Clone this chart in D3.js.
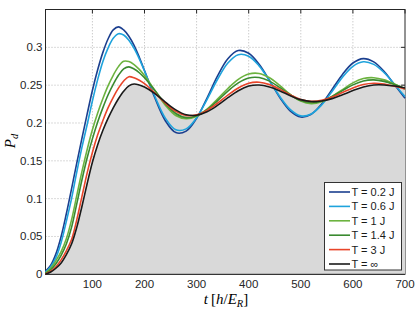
<!DOCTYPE html>
<html>
<head>
  <meta charset="utf-8" />
  <script src="https://d3js.org/d3.v7.min.js"></script>
  <style>
    body{margin:0;background:#fff;}
    text{font-family:"Liberation Sans",Arial,sans-serif;}
  </style>
</head>
<body>
<script>
// time grid (h/E_R)
var times = [10,20,30,40,50,60,70,80,90,100,110,120,130,140,150,160,170,180,190,200,
  220,240,260,280,300,320,340,360,380,400,420,440,460,480,500,520,540,560,580,600,620,640,660,680,700];

var pT02 = [0.004,0.012,0.027,0.05,0.08,0.113,0.147,0.18,0.212,0.243,0.27,0.293,0.311,0.323,0.327,0.323,0.3146,0.3025,0.2868,0.2693,
  0.233,0.203,0.1873,0.1893,0.2062,0.2329,0.2618,0.2849,0.2957,0.2921,0.2775,0.256,0.2333,0.2156,0.2079,0.2116,0.225,0.2444,0.2642,0.2793,0.2851,0.2807,0.268,0.2505,0.2328];
var pT06 = [0.003,0.01,0.022,0.042,0.07,0.1,0.135,0.168,0.198,0.229,0.257,0.281,0.299,0.312,0.318,0.3163,0.3093,0.2985,0.2847,0.2687,
  0.235,0.2064,0.191,0.1922,0.2069,0.231,0.2575,0.2793,0.2903,0.2882,0.2755,0.2559,0.2347,0.2177,0.2094,0.2119,0.2238,0.2416,0.2604,0.2749,0.2809,0.2775,0.2665,0.2508,0.235];
var pT1 = [0.002,0.008,0.018,0.03,0.047,0.072,0.104,0.136,0.165,0.191,0.213,0.232,0.249,0.263,0.2745,0.2815,0.2812,0.2772,0.2708,0.2627,
  0.243,0.2236,0.2099,0.2056,0.2089,0.2182,0.2315,0.2456,0.2577,0.2648,0.2655,0.2597,0.2493,0.2377,0.2289,0.2255,0.228,0.235,0.2442,0.253,0.2587,0.2598,0.257,0.2515,0.2448];
var pT14 = [0.001,0.006,0.014,0.025,0.04,0.062,0.093,0.125,0.154,0.179,0.201,0.22,0.237,0.251,0.263,0.2715,0.2742,0.2713,0.2664,0.2597,
  0.243,0.2257,0.2126,0.2071,0.2095,0.2175,0.2293,0.2421,0.253,0.2595,0.2601,0.2553,0.2467,0.2371,0.2298,0.227,0.2291,0.235,0.2428,0.2504,0.2556,0.257,0.255,0.2507,0.2454];
var pT3 = [0.0005,0.004,0.01,0.019,0.031,0.046,0.072,0.103,0.134,0.161,0.184,0.203,0.22,0.234,0.246,0.2555,0.2612,0.2598,0.2565,0.2519,
  0.2396,0.2262,0.2153,0.2098,0.2108,0.2167,0.2261,0.2368,0.2463,0.2526,0.2539,0.2507,0.2444,0.237,0.2311,0.2286,0.2299,0.2342,0.2402,0.2464,0.2509,0.2526,0.2515,0.2485,0.245];
var pTinf = [0,0.003,0.008,0.015,0.026,0.04,0.062,0.09,0.12,0.148,0.171,0.19,0.206,0.22,0.232,0.242,0.249,0.2515,0.2502,0.2476,
  0.2389,0.2277,0.2174,0.2109,0.2102,0.2148,0.2232,0.2334,0.2427,0.2488,0.2502,0.2476,0.2424,0.2361,0.2309,0.2283,0.229,0.2322,0.2373,0.2428,0.2475,0.2502,0.2503,0.2488,0.2462];

var seriesNames = ["T = 0.2 J","T = 0.6 J","T = 1 J","T = 1.4 J","T = 3 J","T = \u221e"];
var seriesColors = ["#1b3f8f","#1ea3dc","#6cb33f","#3a8a30","#e8452a","#1a1a1a"];
var seriesData = [pT02,pT06,pT1,pT14,pT3,pTinf];

var xTicks = [100,200,300,400,500,600,700];
var yTicks = [0,0.05,0.1,0.15,0.2,0.25,0.3];

var W = 415, H = 311;
var m = {left:45.5, right:10, top:9.5, bottom:36.7};

var svg = d3.select("body").append("svg").attr("width",W).attr("height",H);

var x = d3.scaleLinear().domain([10,700]).range([m.left, W-m.right]);
var y = d3.scaleLinear().domain([0,0.35]).range([H-m.bottom, m.top]);

// dotted grid
var grid = svg.append("g").attr("stroke","#b5b5b5").attr("stroke-dasharray","1,2").attr("stroke-width",1);
grid.selectAll(".gx").data(xTicks.filter(function(d){return d<700;})).enter().append("line")
  .attr("x1",function(d){return x(d);}).attr("x2",function(d){return x(d);})
  .attr("y1",y(0)).attr("y2",y(0.35));
grid.selectAll(".gy").data(yTicks.filter(function(d){return d>0;})).enter().append("line")
  .attr("x1",x(10)).attr("x2",x(700))
  .attr("y1",function(d){return y(d);}).attr("y2",function(d){return y(d);});

// inward ticks, top and right
var tk = svg.append("g").attr("stroke","#262626").attr("stroke-width",1);
xTicks.forEach(function(d){
  tk.append("line").attr("x1",x(d)).attr("x2",x(d)).attr("y1",y(0.35)).attr("y2",y(0.35)+4);
});
yTicks.forEach(function(d){
  tk.append("line").attr("x1",x(700)).attr("x2",x(700)-4).attr("y1",y(d)).attr("y2",y(d));
});

// box
svg.append("rect").attr("x",x(10)).attr("y",y(0.35))
  .attr("width",x(700)-x(10)).attr("height",y(0)-y(0.35))
  .attr("fill","none").attr("stroke","#262626").attr("stroke-width",1);

// gray area under T = inf
var pts = function(arr){ return times.map(function(t,i){ return [t, arr[i]]; }); };
var area = d3.area().x(function(d){return x(d[0]);}).y0(y(0)).y1(function(d){return y(d[1]);})
  .curve(d3.curveCatmullRom);
svg.append("path").datum(pts(pTinf)).attr("d",area).attr("fill","#d9d9d9");

// left and bottom axis lines on top of the fill
svg.append("line").attr("x1",x(10)).attr("x2",x(700)).attr("y1",y(0)).attr("y2",y(0)).attr("stroke","#262626");
svg.append("line").attr("x1",x(10)).attr("x2",x(10)).attr("y1",y(0)).attr("y2",y(0.35)).attr("stroke","#262626");

var line = d3.line().x(function(d){return x(d[0]);}).y(function(d){return y(d[1]);})
  .curve(d3.curveCatmullRom);
seriesData.forEach(function(arr,i){
  svg.append("path").datum(pts(arr)).attr("d",line)
    .attr("fill","none").attr("stroke",seriesColors[i]).attr("stroke-width",1.6);
});

// tick labels
svg.selectAll(".xl").data(xTicks).enter().append("text")
  .attr("x",function(d){return x(d);}).attr("y",y(0)+14)
  .attr("text-anchor","middle").attr("font-size","11.5px").attr("fill","#262626")
  .text(function(d){return d;});
svg.selectAll(".yl").data(yTicks).enter().append("text")
  .attr("x",x(10)-3).attr("y",function(d){return y(d)+4;})
  .attr("text-anchor","end").attr("font-size","11.5px").attr("fill","#262626")
  .text(function(d){return String(d);});

// axis labels
var xl = svg.append("text").attr("x",226).attr("y",303.5).attr("text-anchor","middle")
  .style("font-family","'Liberation Serif','DejaVu Serif',serif").attr("font-size","15px");
xl.append("tspan").attr("font-style","italic").text("t");
xl.append("tspan").text("\u2009[");
xl.append("tspan").attr("font-style","italic").text("h");
xl.append("tspan").text("/");
xl.append("tspan").attr("font-style","italic").text("E");
xl.append("tspan").attr("font-style","italic").attr("font-size","10.5px").attr("dy",3).text("R");
xl.append("tspan").attr("dy",-3).text("]");

var yl = svg.append("text").attr("transform","translate(15,141) rotate(-90)").attr("text-anchor","middle")
  .style("font-family","'Liberation Serif','DejaVu Serif',serif").attr("font-size","15px");
yl.append("tspan").attr("font-style","italic").text("P");
yl.append("tspan").attr("font-style","italic").attr("font-size","10.5px").attr("dy",3).text("d");

// legend
var lg = svg.append("g");
lg.append("rect").attr("x",324.5).attr("y",182.5).attr("width",77).attr("height",87.5)
  .attr("fill","#fff").attr("stroke","#333").attr("stroke-width",1);
seriesNames.forEach(function(n,i){
  var yy = 192 + i*14.4;
  lg.append("line").attr("x1",329).attr("x2",350).attr("y1",yy).attr("y2",yy)
    .attr("stroke",seriesColors[i]).attr("stroke-width",1.6);
  lg.append("text").attr("x",351.5).attr("y",yy+4).attr("font-size","11px").attr("fill","#1a1a1a").text(n);
});
</script>
</body>
</html>
